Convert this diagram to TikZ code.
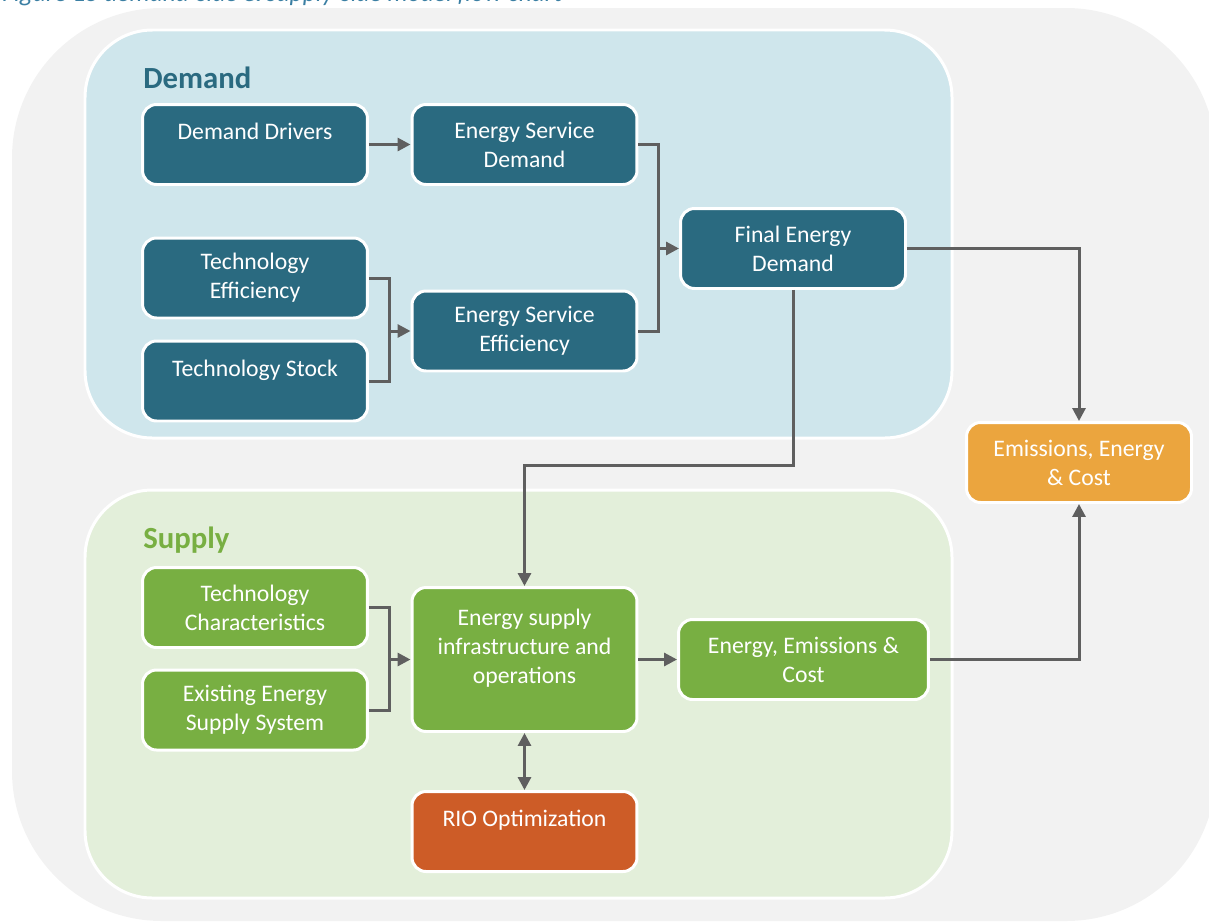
\documentclass[tikz,border=0pt]{standalone}
\usepackage{fontspec}
\setmainfont{Carlito}
\usepackage{xcolor}
\usetikzlibrary{arrows.meta}

\definecolor{bggray}{HTML}{F2F2F2}
\definecolor{demandbg}{HTML}{CFE6EC}
\definecolor{supplybg}{HTML}{E3EFDA}
\definecolor{demandblue}{HTML}{2A6A80}
\definecolor{supplygreen}{HTML}{78AF42}
\definecolor{resultorange}{HTML}{EBA53E}
\definecolor{riored}{HTML}{CD5C27}
\definecolor{linkgray}{HTML}{5F5F5F}
\definecolor{captionblue}{HTML}{3B7FA3}

\begin{document}
\begin{tikzpicture}[x=0.02cm,y=-0.02cm,
    box/.style={draw=white,line width=1.7pt,rounded corners=0.28cm,text=white,align=center,
        font=\fontsize{13.5pt}{16.5pt}\selectfont,inner sep=0pt,minimum width=4.5cm,minimum height=1.6cm},
    oneline/.style={text height=9.5pt,text depth=14.7pt},
    dbox/.style={box,fill=demandblue},
    sbox/.style={box,fill=supplygreen},
    panel/.style={draw=white,line width=1.7pt,rounded corners=1.35cm},
    title/.style={anchor=base west,inner sep=0pt,font=\fontsize{17.5pt}{20pt}\selectfont\bfseries},
    link/.style={draw=linkgray,line width=1.7pt},
    flow/.style={link,-{Triangle[length=0.26cm,width=0.26cm]}},
    twoway/.style={link,{Triangle[length=0.26cm,width=0.26cm]}-{Triangle[length=0.26cm,width=0.26cm]}},
    ]
    \useasboundingbox (0,0) rectangle (1209,923);
    \fill[bggray,rounded corners=3cm] (12,8) rectangle (1216,921);
    \node[anchor=base west,inner sep=0pt,text=captionblue,font=\fontsize{14.5pt}{16pt}\selectfont\itshape] (caption) at (2,1) {Figure 15 demand-side \& supply-side model flow chart};

    % demand side
    \draw[panel,fill=demandbg] (85,30) rectangle (952,438);
    \node[title,text=demandblue] (demandtitle) at (143,88) {Demand};
    \node[dbox,oneline] (dd) at (255,144.5) {Demand Drivers};
    \node[dbox] (esd) at (524.5,144.5) {Energy Service\\Demand};
    \node[dbox] (te) at (255,278) {Technology\\Efficiency};
    \node[dbox,oneline] (ts) at (255,381) {Technology Stock};
    \node[dbox] (ese) at (524.5,331) {Energy Service\\Efficiency};
    \node[dbox] (fed) at (793,248.5) {Final Energy\\Demand};

    % supply side
    \draw[panel,fill=supplybg] (85,490) rectangle (952,898);
    \node[title,text=supplygreen] (supplytitle) at (143,548) {Supply};
    \node[sbox] (tc) at (255,607.5) {Technology\\Characteristics};
    \node[sbox] (ex) at (255,710) {Existing Energy\\Supply System};
    \node[sbox,minimum height=2.88cm,text depth=14.7pt] (esio) at (524.5,659.5) {Energy supply\\infrastructure and\\operations};
    \node[sbox,minimum width=5cm] (ece) at (803.5,659.5) {Energy, Emissions \&\\Cost};
    \node[box,oneline,fill=riored] (rio) at (524.5,831.5) {RIO Optimization};

    \node[box,fill=resultorange] (eec) at (1079,462.5) {Emissions, Energy\\\& Cost};

    % connectors
    \coordinate (j1) at (389,331);
    \coordinate (j2) at (658,248.5);
    \coordinate (j3) at (389,659.5);
    \coordinate (bend) at (524.5,465);
    \draw[flow] (dd) -- (esd);
    \draw[link] (te.east) -| (j1);
    \draw[link] (ts.east) -| (j1);
    \draw[flow] (j1) -- (ese.west);
    \draw[link] (esd.east) -| (j2);
    \draw[link] (ese.east) -| (j2);
    \draw[flow] (j2) -- (fed.west);
    \draw[flow] (fed.east) -| (eec.north);
    \draw[flow] (fed.south) |- (bend) -- (esio.north);
    \draw[link] (tc.east) -| (j3);
    \draw[link] (ex.east) -| (j3);
    \draw[flow] (j3) -- (esio.west);
    \draw[flow] (esio.east) -- (ece.west);
    \draw[flow] (ece.east) -| (eec.south);
    \draw[twoway] (esio.south) -- (rio.north);
\end{tikzpicture}
\end{document}
